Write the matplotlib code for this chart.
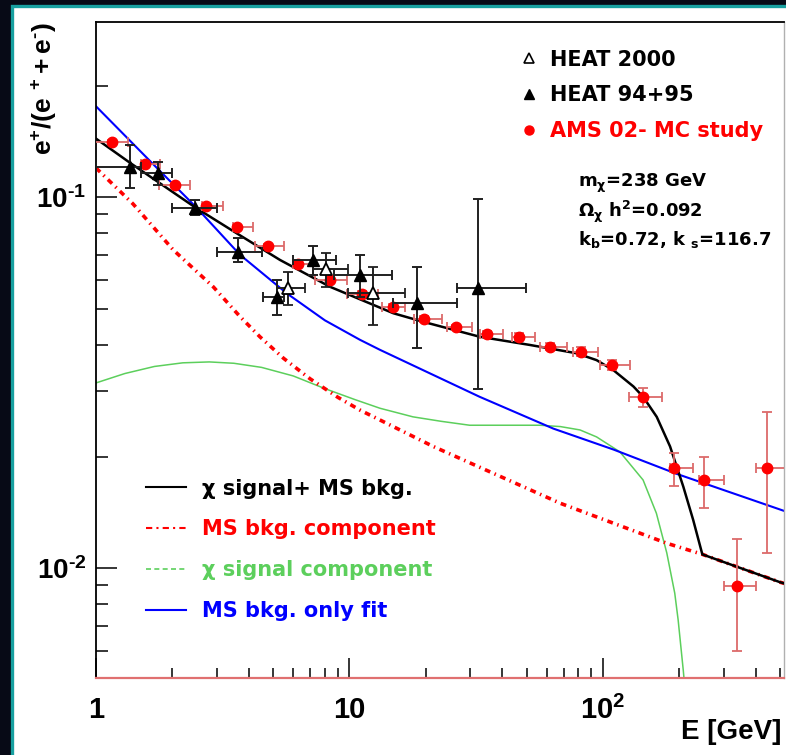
import numpy as np
import matplotlib
matplotlib.use("Agg")
import matplotlib.pyplot as plt
from matplotlib.lines import Line2D
from matplotlib.patches import Rectangle
from matplotlib.ticker import FixedLocator, FixedFormatter, NullFormatter

plt.rcParams.update({
    "font.family": "Liberation Sans",
    "font.weight": "bold",
    "mathtext.fontset": "custom",
    "mathtext.rm": "DejaVu Sans:bold",
    "mathtext.bf": "Liberation Sans:bold",
    "mathtext.it": "Liberation Sans:bold",
    "mathtext.default": "bf",
})

# AMS-02 MC study: energy, ratio, bin edges, errors
ams_e = [1.16, 1.56, 2.05, 2.71, 3.59, 4.78, 6.28, 8.38, 11.2, 14.9, 19.7,
         26.3, 34.8, 46.6, 61.8, 81.9, 108.8, 144.2, 190.6, 250, 337, 442]
ams_r = [0.141, 0.123, 0.108, 0.095, 0.083, 0.074, 0.066, 0.060, 0.055,
         0.0507, 0.047, 0.0446, 0.0428, 0.0421, 0.0396, 0.0384, 0.0353,
         0.029, 0.0186, 0.0173, 0.00898, 0.0186]
ams_e_lo = [0.9, 1.50, 1.77, 2.61, 3.47, 4.24, 5.99, 7.31, 9.75, 13.4, 17.9,
            24.2, 32.7, 43.6, 56.4, 76.4, 97.3, 127, 183.8, 240, 300, 401]
ams_e_hi = [1.34, 1.79, 2.35, 3.16, 4.17, 5.52, 7.18, 9.75, 12.95, 16.6,
            23.1, 30.3, 40.4, 53.9, 71.9, 95.8, 127.8, 170.4, 227.1, 300,
            401, 600]
ams_err_dn = [0.0015, 0.0013, 0.0012, 0.0011, 0.0010, 0.0009, 0.0008, 0.0008,
              0.0008, 0.0008, 0.0008, 0.0008, 0.0008, 0.0009, 0.0009, 0.0010,
              0.0011, 0.0018, 0.0019, 0.0028, 0.0030, 0.0076]
ams_err_up = [0.0015, 0.0013, 0.0012, 0.0011, 0.0010, 0.0009, 0.0008, 0.0008,
              0.0008, 0.0008, 0.0008, 0.0008, 0.0008, 0.0009, 0.0009, 0.0010,
              0.0011, 0.0016, 0.0019, 0.0026, 0.0030, 0.0077]

# HEAT 94+95
heat95_e = [1.36, 1.76, 2.46, 3.64, 5.16, 7.2, 11.0, 18.4, 32.0]
heat95_r = [0.121, 0.116, 0.0934, 0.0714, 0.054, 0.0678, 0.0617, 0.0518, 0.0568]
heat95_r_hi = [0.1383, 0.1247, 0.0983, 0.0775, 0.0598, 0.0739, 0.0699, 0.065, 0.0988]
heat95_r_lo = [0.1057, 0.108, 0.0896, 0.0671, 0.0482, 0.0617, 0.054, 0.0392, 0.0304]
heat95_e_lo = [1.0, 1.51, 2.0, 3.0, 4.54, 6.0, 8.7, 14.8, 26.6]
heat95_e_hi = [1.5, 2.0, 3.0, 4.5, 5.5, 8.85, 14.7, 26.6, 49.8]

# HEAT 2000
heat00_e = [5.74, 8.06, 12.35]
heat00_r = [0.0568, 0.064, 0.0551]
heat00_r_hi = [0.063, 0.0709, 0.065]
heat00_r_lo = [0.0513, 0.0574, 0.0453]
heat00_e_lo = [5.16, 7.2, 9.86]
heat00_e_hi = [6.67, 9.86, 16.6]

# model curves
total_e = [1.0, 1.36, 2.46, 3.59, 5.32, 8.38, 14.9, 19.5, 32.6, 51.5, 78.5,
           94.4, 110, 132, 144, 163, 184, 207.5, 227, 246.7, 500, 520]
total_r = [0.144, 0.124, 0.094, 0.080, 0.0678, 0.0574, 0.0487, 0.0462,
           0.0421, 0.0400, 0.0380, 0.0364, 0.0342, 0.0309, 0.029, 0.0256,
           0.0213, 0.0166, 0.0135, 0.0109, 0.00917, 0.0091]

bkg_e = [1.0, 1.4, 2.02, 2.9, 3.7, 4.43, 5.5, 7.0, 9.0, 11.0, 13.2, 21.4,
         67.9, 178.6, 247, 500, 520]
bkg_r = [0.120, 0.096, 0.0721, 0.0574, 0.0477, 0.0421, 0.0368, 0.0324,
         0.0289, 0.0267, 0.0251, 0.0213, 0.01497, 0.01168, 0.0109, 0.00917,
         0.0091]

fit_e = [1.0, 1.7, 2.46, 3.7, 5.66, 8.0, 11.0, 13.2, 32.6, 63.7, 110, 194, 515]
fit_r = [0.176, 0.1219, 0.0947, 0.0700, 0.0551, 0.0466, 0.0413, 0.0388,
         0.029, 0.0238, 0.0209, 0.018, 0.0143]

sig_e = [1.0, 1.3, 1.7, 2.2, 2.8, 3.5, 4.5, 6.0, 8.0, 10.5, 13.2, 17.8, 23.0,
         29.8, 40.0, 56.4, 67.9, 81.2, 94.4, 116.6, 144, 162.5, 178.6, 192,
         198, 207.5, 212]
sig_r = [0.0316, 0.0335, 0.0350, 0.0358, 0.0360, 0.0357, 0.0348, 0.0330,
         0.0305, 0.0285, 0.027, 0.0256, 0.0249, 0.0243, 0.0243, 0.0243,
         0.0241, 0.0236, 0.0226, 0.0206, 0.0173, 0.01407, 0.011, 0.00857,
         0.00726, 0.0053, 0.0045]

W, H = 786, 755
fig = plt.figure(figsize=(W / 100, H / 100), dpi=100, facecolor="#070a16")

# white slide panel with teal frame
fig.patches.append(Rectangle((12 / W, -0.02), 1.05, (755 - 6) / H + 0.02,
                             transform=fig.transFigure, facecolor="white",
                             edgecolor="#18a0a0", linewidth=2.4, zorder=-10))

ax = fig.add_axes([96 / W, 77 / H, 688 / W, 656 / H])
ax.set_facecolor("white")
ax.set_xscale("log")
ax.set_yscale("log")
ax.set_xlim(1, 518)
ax.set_ylim(0.00506, 0.297)


def errs(c, lo, hi):
    c, lo, hi = map(np.asarray, (c, lo, hi))
    return [c - lo, hi - c]


# curves
ax.plot(sig_e, sig_r, color="#5ccf5c", lw=1.1, zorder=2)
ax.plot(fit_e, fit_r, color="#0000ff", lw=1.5, zorder=2)
ax.plot(bkg_e, bkg_r, color="#ff0000", lw=2.6,
        ls=(0, (1.6, 1.3, 0.4, 1.3)), zorder=2)
ax.plot(total_e, total_r, color="black", lw=1.8, zorder=3)

# data
ax.errorbar(ams_e, ams_r, xerr=errs(ams_e, ams_e_lo, ams_e_hi),
            yerr=[ams_err_dn, ams_err_up], fmt="o", ms=7.5, mfc="#ff0000",
            mec="#ff0000", ecolor="#dc6a6a", elinewidth=1.3, capsize=3.5,
            capthick=1.3, zorder=4)
ax.errorbar(heat95_e, heat95_r, xerr=errs(heat95_e, heat95_e_lo, heat95_e_hi),
            yerr=errs(heat95_r, heat95_r_lo, heat95_r_hi), fmt="^", ms=8,
            mfc="black", mec="black", ecolor="#202020", elinewidth=1.4,
            capsize=3.5, capthick=1.4, zorder=5)
ax.errorbar(heat00_e, heat00_r, xerr=errs(heat00_e, heat00_e_lo, heat00_e_hi),
            yerr=errs(heat00_r, heat00_r_lo, heat00_r_hi), fmt="^", ms=8,
            mfc="white", mec="black", mew=1.3, ecolor="#202020",
            elinewidth=1.4, capsize=3.5, capthick=1.4, zorder=5)

# axes frame and ticks
for side in ("left", "top"):
    ax.spines[side].set_linewidth(1.3)
    ax.spines[side].set_color("black")
ax.spines["right"].set_color("#b0b0b0")
ax.spines["right"].set_linewidth(1.0)
ax.spines["bottom"].set_color("#e07070")
ax.spines["bottom"].set_linewidth(1.6)

ax.xaxis.set_major_locator(FixedLocator([1, 10, 100]))
ax.xaxis.set_major_formatter(FixedFormatter(["1", "10", r"$10^{2}$"]))
ax.xaxis.set_minor_locator(FixedLocator(
    [m * d for d in (1, 10, 100) for m in range(2, 10)]))
ax.xaxis.set_minor_formatter(NullFormatter())
ax.yaxis.set_major_locator(FixedLocator([0.01, 0.1]))
ax.yaxis.set_major_formatter(FixedFormatter(
    ["$10^{\u2010 2}$", "$10^{\u2010 1}$"]))
ax.yaxis.set_minor_locator(FixedLocator(
    [m * d for d in (0.001, 0.01, 0.1) for m in range(2, 10)]))
ax.yaxis.set_minor_formatter(NullFormatter())

ax.tick_params(axis="x", which="major", direction="in", length=14.5,
               width=1.1, labelsize=21, pad=13, color="black", top=False)
ax.tick_params(axis="x", which="minor", direction="in", length=7.5,
               width=1.1, top=False)
ax.tick_params(axis="y", which="major", direction="in", length=15,
               width=1.1, labelsize=20, pad=7, right=False)
ax.tick_params(axis="y", which="minor", direction="in", length=8.5,
               width=1.1, right=False)

fig.text(781 / W, (755 - 732) / H, "E [GeV]", fontsize=20,
         ha="right", va="center")
fig.text(44 / W, (755 - 22) / H, "$e^{+}/(e\\ ^{+}+e^{\u2010})$", fontsize=19,
         rotation=90, ha="center", va="top")

# data legend (top right)
data_handles = [
    Line2D([], [], ls="none", marker="^", ms=7, mfc="white", mec="black", mew=1.2),
    Line2D([], [], ls="none", marker="^", ms=7, mfc="black", mec="black"),
    Line2D([], [], ls="none", marker="o", ms=6.5, mfc="#ff0000", mec="#ff0000"),
]
leg_font = {"family": "DejaVu Sans", "weight": "bold", "size": 15}
leg1 = ax.legend(data_handles, ["HEAT 2000", "HEAT 94+95", "AMS 02- MC study"],
                 loc="upper left", bbox_to_anchor=((519 - 96) / 688, 0.958),
                 frameon=False, prop=leg_font, handlelength=1.0,
                 handletextpad=0.5, borderpad=0, borderaxespad=0,
                 labelspacing=0.76,
                 labelcolor=["black", "black", "#ff0000"])
ax.add_artist(leg1)

# model legend (bottom left)
model_handles = [
    Line2D([], [], color="black", lw=1.5),
    Line2D([], [], color="#ff0000", lw=1.5, ls=(0, (3, 2, 1, 2))),
    Line2D([], [], color="#5ccf5c", lw=1.2, ls=(0, (3, 2))),
    Line2D([], [], color="#0000ff", lw=1.5),
]
ax.legend(model_handles,
          ["\u03c7 signal+ MS bkg.", "MS bkg. component",
           "\u03c7 signal component", "MS bkg. only fit"],
          loc="upper left", bbox_to_anchor=((146 - 96) / 688, 0.304),
          frameon=False, prop=leg_font, handlelength=1.92,
          handletextpad=0.77, borderpad=0, borderaxespad=0,
          labelspacing=1.0,
          labelcolor=["black", "#ff0000", "#5ccf5c", "#0000ff"])

# model parameters
params = [r"m$_{\mathrm{\chi}}$=238 GeV",
          r"$\mathrm{\Omega}_{\mathrm{\chi}}$ h$^{\mathrm{2}}$=0.092",
          r"k$_{\mathrm{b}}$=0.72, k $_{\mathrm{s}}$=116.7"]
for i, s in enumerate(params):
    fig.text(578 / W, (755 - 183 - 28.5 * i) / H, s, fontsize=13,
             family="DejaVu Sans", ha="left", va="center")

fig.savefig("out.png", dpi=100, facecolor=fig.get_facecolor())
